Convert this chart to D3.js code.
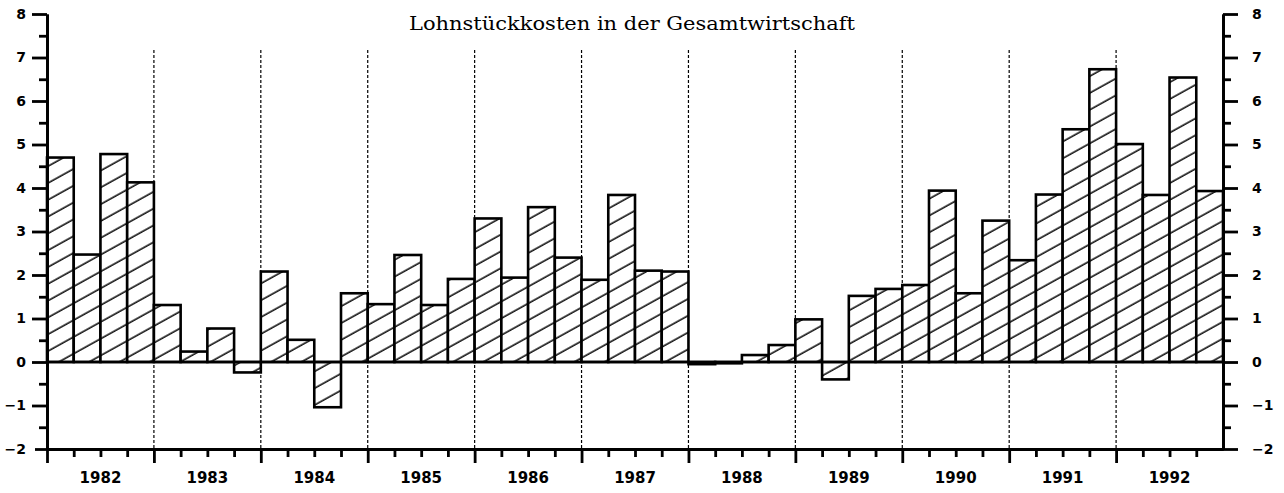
<!DOCTYPE html>
<html>
<head>
<meta charset="utf-8">
<script src="https://d3js.org/d3.v7.min.js"></script>
<style>
  body { margin: 0; background: #fff; }
  .tick text { font-family: "DejaVu Sans", sans-serif; font-weight: bold; font-size: 14px; fill: #000; }
</style>
</head>
<body>
<div id="chart"></div>
<script>
// Quarterly values, 1982 Q1 .. 1992 Q4
const years = ["1982", "1983", "1984", "1985", "1986", "1987", "1988", "1989", "1990", "1991", "1992"];
const quarters = ["Q1", "Q2", "Q3", "Q4"];
const values = [
  4.70, 2.47, 4.78, 4.13,   // 1982
  1.31, 0.24, 0.77, -0.24,  // 1983
  2.08, 0.51, -1.04, 1.58,  // 1984
  1.33, 2.46, 1.31, 1.91,   // 1985
  3.30, 1.94, 3.56, 2.40,   // 1986
  1.89, 3.84, 2.10, 2.08,   // 1987
  -0.05, -0.03, 0.16, 0.39, // 1988
  0.98, -0.40, 1.52, 1.68,  // 1989
  1.77, 3.94, 1.58, 3.25,   // 1990
  2.34, 3.85, 5.35, 6.73,   // 1991
  5.01, 3.84, 6.54, 3.93    // 1992
];
const yTicks = [-2, -1, 0, 1, 2, 3, 4, 5, 6, 7, 8];
const title = "Lohnstückkosten in der Gesamtwirtschaft";

const W = 1284, H = 493;
const margin = { left: 47, right: 1223, top: 14, bottom: 449 };

const svg = d3.select("#chart").append("svg")
  .attr("width", W).attr("height", H);

// hatch pattern
const defs = svg.append("defs");
const pat = defs.append("pattern")
  .attr("id", "hatch")
  .attr("patternUnits", "userSpaceOnUse")
  .attr("width", 10).attr("height", 14.7)
  .attr("patternTransform", "rotate(-29)");
pat.append("rect").attr("width", 10).attr("height", 14.7).attr("fill", "#fff");
pat.append("line")
  .attr("x1", 0).attr("x2", 10).attr("y1", 7).attr("y2", 7)
  .attr("stroke", "#000").attr("stroke-width", 1.5);

const n = values.length;
const x = d3.scaleLinear().domain([0, n]).range([margin.left, margin.right]);
const y = d3.scaleLinear().domain([-2, 8]).range([margin.bottom, margin.top]);

// year separators (dashed)
svg.append("g").selectAll("line")
  .data(d3.range(1, years.length))
  .join("line")
  .attr("x1", d => x(d * 4)).attr("x2", d => x(d * 4))
  .attr("y1", 50).attr("y2", margin.bottom)
  .attr("stroke", "#000").attr("stroke-width", 1.2)
  .attr("stroke-dasharray", "3,2");

// bars
svg.append("g").selectAll("rect")
  .data(values)
  .join("rect")
  .attr("x", (d, i) => x(i))
  .attr("width", x(1) - x(0))
  .attr("y", d => y(Math.max(0, d)))
  .attr("height", d => Math.abs(y(d) - y(0)))
  .attr("fill", "url(#hatch)")
  .attr("stroke", "#000")
  .attr("stroke-width", 2.6);

// zero line
svg.append("line")
  .attr("x1", margin.left).attr("x2", margin.right)
  .attr("y1", y(0)).attr("y2", y(0))
  .attr("stroke", "#000").attr("stroke-width", 2.6);

// y axes
const minor = d3.range(-1.5, 8, 1);
function styleAxis(g) {
  g.selectAll(".domain").attr("stroke", "#000").attr("stroke-width", 2.8);
  g.selectAll(".tick line").attr("stroke", "#000").attr("stroke-width", 2.8);
}
svg.append("g")
  .attr("transform", `translate(${margin.left},0)`)
  .call(d3.axisLeft(y).tickValues(minor).tickSize(8).tickSizeOuter(0).tickFormat(""))
  .call(styleAxis);
svg.append("g")
  .attr("transform", `translate(${margin.left},0)`)
  .call(d3.axisLeft(y).tickValues(yTicks).tickSize(15).tickSizeOuter(0).tickPadding(6))
  .call(styleAxis)
  .call(g => g.selectAll(".tick").filter(d => d === -2).select("line").attr("x2", -12));
svg.append("g")
  .attr("transform", `translate(${margin.right},0)`)
  .call(d3.axisRight(y).tickValues(minor).tickSize(8).tickSizeOuter(0).tickFormat(""))
  .call(styleAxis);
svg.append("g")
  .attr("transform", `translate(${margin.right},0)`)
  .call(d3.axisRight(y).tickValues(yTicks).tickSize(15).tickSizeOuter(0).tickPadding(14))
  .call(styleAxis);

// bottom axis: quarter ticks and year ticks
svg.append("g")
  .attr("transform", `translate(0,${margin.bottom})`)
  .call(d3.axisBottom(x).tickValues(d3.range(0, n).filter(i => i % 4 !== 0)).tickSize(8).tickSizeOuter(0).tickFormat(""))
  .call(styleAxis);
svg.append("g")
  .attr("transform", `translate(0,${margin.bottom})`)
  .call(d3.axisBottom(x).tickValues(d3.range(0, n, 4)).tickSize(14).tickSizeOuter(0).tickFormat(""))
  .call(styleAxis);

// year labels
svg.append("g").selectAll("text")
  .data(years)
  .join("text")
  .attr("x", (d, i) => x(i * 4 + 2))
  .attr("y", 483)
  .attr("text-anchor", "middle")
  .style("font-family", "DejaVu Sans, sans-serif")
  .style("font-weight", "bold")
  .style("font-size", "15px")
  .attr("fill", "#000")
  .text(d => d);

// title
svg.append("text")
  .attr("x", 632).attr("y", 30)
  .attr("text-anchor", "middle")
  .attr("textLength", 446)
  .attr("lengthAdjust", "spacingAndGlyphs")
  .style("font-family", "DejaVu Serif, serif")
  .style("font-size", "19px")
  .attr("fill", "#000")
  .text(title);
</script>
</body>
</html>
